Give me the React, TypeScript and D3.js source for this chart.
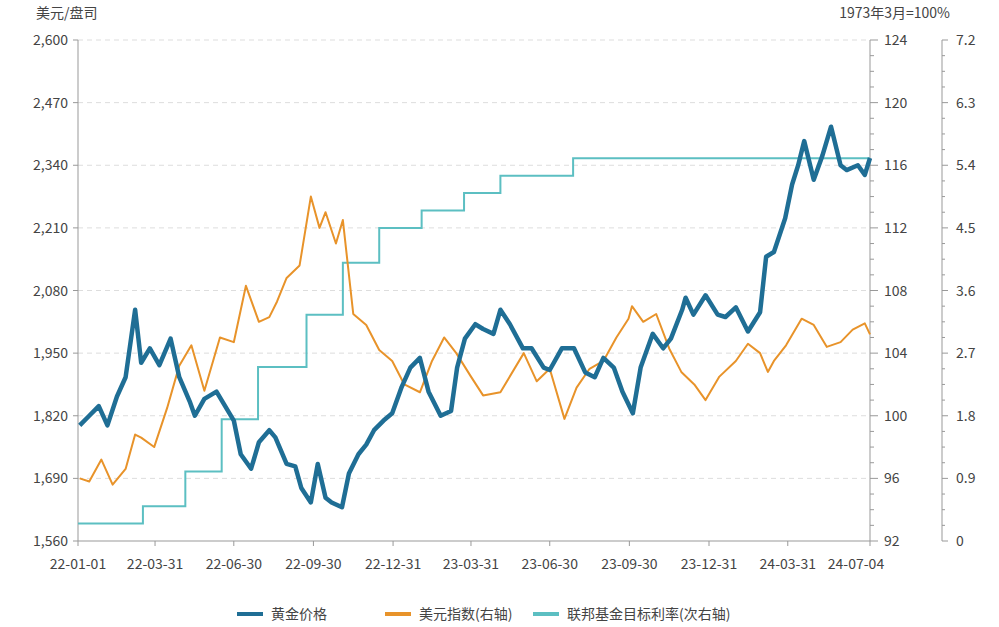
import React from "react";
import * as d3 from "d3";

const goldDates = ["2022-01-03","2022-01-14","2022-01-25","2022-02-04","2022-02-15","2022-02-25","2022-03-08","2022-03-15","2022-03-25","2022-04-05","2022-04-18","2022-04-28","2022-05-10","2022-05-16","2022-05-27","2022-06-10","2022-06-20","2022-06-30","2022-07-08","2022-07-20","2022-07-29","2022-08-10","2022-08-17","2022-08-30","2022-09-09","2022-09-16","2022-09-27","2022-10-05","2022-10-14","2022-10-21","2022-11-02","2022-11-10","2022-11-21","2022-11-30","2022-12-09","2022-12-20","2022-12-30","2023-01-10","2023-01-20","2023-01-31","2023-02-10","2023-02-24","2023-03-08","2023-03-15","2023-03-24","2023-04-05","2023-04-14","2023-04-26","2023-05-04","2023-05-15","2023-05-30","2023-06-09","2023-06-23","2023-06-30","2023-07-14","2023-07-28","2023-08-10","2023-08-21","2023-08-31","2023-09-12","2023-09-22","2023-10-04","2023-10-13","2023-10-27","2023-11-08","2023-11-17","2023-11-30","2023-12-04","2023-12-13","2023-12-27","2024-01-10","2024-01-19","2024-01-31","2024-02-14","2024-02-28","2024-03-06","2024-03-15","2024-03-28","2024-04-05","2024-04-12","2024-04-19","2024-04-30","2024-05-10","2024-05-20","2024-05-31","2024-06-07","2024-06-20","2024-06-28","2024-07-04"];
const goldValues = [1800,1820,1840,1800,1860,1900,2040,1930,1960,1925,1980,1900,1850,1820,1855,1870,1840,1810,1740,1710,1765,1790,1775,1720,1715,1670,1640,1720,1650,1640,1630,1700,1740,1760,1790,1810,1825,1880,1920,1940,1870,1820,1830,1920,1980,2010,2000,1990,2040,2010,1960,1960,1920,1915,1960,1960,1910,1900,1940,1920,1870,1825,1920,1990,1960,1980,2040,2065,2030,2070,2030,2025,2045,1995,2035,2150,2160,2230,2300,2340,2390,2310,2360,2420,2340,2330,2340,2320,2355];

const dxyDates = ["2022-01-03","2022-01-14","2022-01-28","2022-02-10","2022-02-25","2022-03-08","2022-03-15","2022-03-30","2022-04-14","2022-04-28","2022-05-12","2022-05-27","2022-06-14","2022-06-30","2022-07-14","2022-07-29","2022-08-10","2022-08-19","2022-08-30","2022-09-14","2022-09-27","2022-10-07","2022-10-14","2022-10-26","2022-11-03","2022-11-15","2022-11-30","2022-12-15","2022-12-30","2023-01-13","2023-01-31","2023-02-14","2023-02-28","2023-03-14","2023-03-31","2023-04-14","2023-05-04","2023-05-31","2023-06-15","2023-06-30","2023-07-17","2023-07-31","2023-08-15","2023-08-31","2023-09-15","2023-09-29","2023-10-03","2023-10-16","2023-10-31","2023-11-15","2023-11-29","2023-12-14","2023-12-27","2024-01-12","2024-01-31","2024-02-14","2024-02-28","2024-03-08","2024-03-15","2024-03-29","2024-04-16","2024-04-30","2024-05-15","2024-05-31","2024-06-14","2024-06-28","2024-07-04"];
const dxyValues = [96,95.8,97.2,95.6,96.6,98.8,98.6,98,100.5,103.2,104.5,101.6,105,104.7,108.3,106,106.3,107.3,108.8,109.6,114,112,113,111,112.5,106.5,105.8,104.2,103.5,102,101.5,103.5,105,104,102.5,101.3,101.5,104,102.2,103,99.8,101.8,103,103.5,105,106.2,107,106,106.5,104.3,102.8,102,101,102.5,103.5,104.6,104,102.8,103.5,104.5,106.2,105.8,104.4,104.7,105.5,105.9,105.2];

const fedDates = ["2022-01-01","2022-03-17","2022-05-05","2022-06-16","2022-07-28","2022-09-22","2022-11-03","2022-12-15","2023-02-02","2023-03-23","2023-05-04","2023-07-27","2024-07-04"];
const fedValues = [0.25,0.5,1.0,1.75,2.5,3.25,4.0,4.5,4.75,5.0,5.25,5.5,5.5];

const leftTicks = [1560,1690,1820,1950,2080,2210,2340,2470,2600];
const rightTicks = [92,96,100,104,108,112,116,120,124];
const right2Ticks = [0,0.9,1.8,2.7,3.6,4.5,5.4,6.3,7.2];
const xTickDates = ["2022-01-01","2022-03-31","2022-06-30","2022-09-30","2022-12-31","2023-03-31","2023-06-30","2023-09-30","2023-12-31","2024-03-31","2024-07-04"];

const legendItems = [
  { label: "黄金价格", color: "#1f6e95", w: 4 },
  { label: "美元指数(右轴)", color: "#e8932a", w: 4 },
  { label: "联邦基金目标利率(次右轴)", color: "#5cbfc2", w: 4 },
];

const p = d3.timeParse("%Y-%m-%d");
const fmtX = d3.timeFormat("%y-%m-%d");

export default function App() {
  const W = 999, H = 627;
  const L = 78, R = 870, R2 = 942, T = 40, B = 541;
  const x = d3.scaleTime().domain([p("2022-01-01")!, p("2024-07-04")!]).range([L, R]);
  const yL = d3.scaleLinear().domain([1560, 2600]).range([B, T]);
  const yR = d3.scaleLinear().domain([92, 124]).range([B, T]);
  const yR2 = d3.scaleLinear().domain([0, 7.2]).range([B, T]);
  const goldLine = d3.line<number>().x((_, i) => x(p(goldDates[i])!)).y(v => yL(v)).curve(d3.curveLinear);
  const dxyLine = d3.line<number>().x((_, i) => x(p(dxyDates[i])!)).y(v => yR(v));
  const fedLine = d3.line<number>().x((_, i) => x(p(fedDates[i])!)).y(v => yR2(v)).curve(d3.curveStepAfter);
  const font = "'Noto Sans CJK SC', 'Noto Sans', sans-serif";
  const tc = "#444";
  const minor = (ticks: number[], s: any) => {
    const out: number[] = [];
    for (let i = 0; i < ticks.length - 1; i++) for (let k = 1; k < 4; k++) out.push(s(ticks[i] + (ticks[i + 1] - ticks[i]) * k / 4));
    return out;
  };
  return (
    <svg width={W} height={H} style={{ position: "absolute", left: 0, top: 0, background: "#fff" }} fontFamily={font}>
      <text x={36} y={18} fontSize={14} fill={tc}>美元/盘司</text>
      <text x={950} y={18} fontSize={14} fill={tc} textAnchor="end">1973年3月=100%</text>
      {leftTicks.slice(1).map(t => (
        <line key={t} x1={L} x2={R} y1={yL(t)} y2={yL(t)} stroke="#ddd" strokeDasharray="5,4" />
      ))}
      <line x1={L} x2={L} y1={T} y2={B} stroke="#999" />
      <line x1={R} x2={R} y1={T} y2={B} stroke="#999" />
      <line x1={R2} x2={R2} y1={T} y2={B} stroke="#999" />
      <line x1={L} x2={R} y1={B} y2={B} stroke="#999" />
      {leftTicks.map(t => (
        <g key={t}>
          <line x1={L - 5} x2={L} y1={yL(t)} y2={yL(t)} stroke="#999" />
          <text x={L - 10} y={yL(t) + 5} fontSize={14} textAnchor="end" fill={tc}>{d3.format(",")(t)}</text>
        </g>
      ))}
      {rightTicks.map(t => (
        <g key={t}>
          <line x1={R} x2={R + 8} y1={yR(t)} y2={yR(t)} stroke="#999" />
          <text x={R + 14} y={yR(t) + 5} fontSize={14} fill={tc}>{t}</text>
        </g>
      ))}
      {minor(rightTicks, yR).map((y, i) => <line key={i} x1={R} x2={R + 4} y1={y} y2={y} stroke="#999" />)}
      {right2Ticks.map(t => (
        <g key={t}>
          <line x1={R2} x2={R2 + 6} y1={yR2(t)} y2={yR2(t)} stroke="#999" />
          <text x={R2 + 14} y={yR2(t) + 5} fontSize={14} fill={tc}>{t}</text>
        </g>
      ))}
      {minor(right2Ticks, yR2).map((y, i) => <line key={i} x1={R2} x2={R2 + 3} y1={y} y2={y} stroke="#999" />)}
      {xTickDates.map((d, i) => (
        <g key={d}>
          <line x1={x(p(d)!)} x2={x(p(d)!)} y1={B} y2={B + 5} stroke="#999" />
          <text x={i === xTickDates.length - 1 ? x(p(d)!) - 14 : x(p(d)!)} y={B + 28} fontSize={14} textAnchor="middle" fill={tc}>{fmtX(p(d)!)}</text>
        </g>
      ))}
      <path d={fedLine(fedValues)!} fill="none" stroke="#5cbfc2" strokeWidth={2} />
      <path d={dxyLine(dxyValues)!} fill="none" stroke="#e8932a" strokeWidth={2} strokeLinejoin="round" />
      <path d={goldLine(goldValues)!} fill="none" stroke="#1f6e95" strokeWidth={4.5} strokeLinejoin="round" />
      {legendItems.map((it, i) => {
        const xs = [237, 385, 533][i];
        return (
          <g key={it.label}>
            <line x1={xs} x2={xs + 26} y1={614} y2={614} stroke={it.color} strokeWidth={it.w} />
            <text x={xs + 34} y={619} fontSize={14} fill={tc}>{it.label}</text>
          </g>
        );
      })}
    </svg>
  );
}
